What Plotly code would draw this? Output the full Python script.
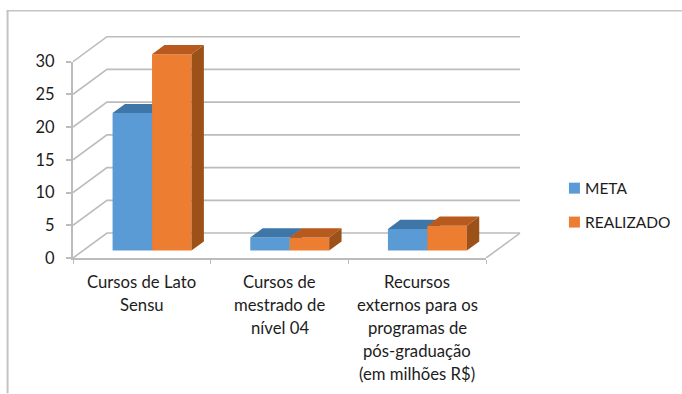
import plotly.graph_objects as go

categories = ["Cursos de Lato<br>Sensu",
              "Cursos de<br>mestrado de<br>nível 04",
              "Recursos<br>externos para os<br>programas de<br>pós-graduação<br>(em milhões R$)"]
series_names = ["META", "REALIZADO"]
meta = [21, 2, 3.3]
realizado = [30, 2, 3.8]
y_ticks = [0, 5, 10, 15, 20, 25, 30]

W, H = 682, 394
L, R, T, B = 72.5, 486.0, 61.7, 258.5   # pixel box of the axes proper
R2, T2 = 523.0, 33.0                    # pixel box that also holds the 3-D walls
FONT = "Lato"
TXT = "#1c1c1c"
GRID = "#bcbcbc"
N = len(categories)
px_x = (R - L) / N
px_y = (B - T) / y_ticks[-1]
DX, DY = 34 / px_x, 25 / px_y          # depth of the floor, in data units
F0, F1 = 0.30, 0.665                   # bar front / back as a share of depth
BW = 39.5 / px_x

COLORS = {"META": ("#5b9bd5", "#3f76a8", "#3a6a96"),
          "REALIZADO": ("#ed7d31", "#b85a1e", "#9c5118")}


def polys(pts_list):
    xs, ys = [], []
    for pts in pts_list:
        xs += [p[0] for p in pts] + [pts[0][0], None]
        ys += [p[1] for p in pts] + [pts[0][1], None]
    return xs, ys


fig = go.Figure()

# holds the visible axes (xaxis / yaxis)
fig.add_trace(go.Scatter(x=[0], y=[0], mode="none", hoverinfo="skip", showlegend=False))

# walls: back gridlines, slanted side lines, floor edge
gx, gy = [], []
for v in y_ticks:
    gx += [-0.5, -0.5 + DX, N - 0.5 + DX, None]
    gy += [v, v + DY, v + DY, None]
gx += [N - 0.5, N - 0.5 + DX, None]
gy += [0, DY, None]
fig.add_trace(go.Scatter(x=gx, y=gy, mode="lines", hoverinfo="skip", xaxis="x2", yaxis="y2",
                         line=dict(color=GRID, width=1.6), showlegend=False))

for k, (name, vals) in enumerate(zip(series_names, [meta, realizado])):
    front, top, side = COLORS[name]
    xa, ya = "x" + str(k + 3), "y" + str(k + 3)
    left = [i + F0 * DX + (k - 1) * BW for i in range(N)]
    centers = [l + BW / 2 for l in left]
    base = [F0 * DY] * N
    fig.add_trace(go.Bar(x=centers, y=vals, base=base, width=BW, name=name, xaxis=xa, yaxis=ya,
                         marker=dict(color=front, line=dict(width=0)), showlegend=False))
    d = F1 - F0
    tops, sides = [], []
    for l, v in zip(left, vals):
        y0 = F0 * DY
        y1 = y0 + v
        ox, oy = d * DX, d * DY
        tops.append([(l, y1), (l + BW, y1), (l + BW + ox, y1 + oy), (l + ox, y1 + oy)])
        sides.append([(l + BW, y0), (l + BW, y1), (l + BW + ox, y1 + oy), (l + BW + ox, y0 + oy)])
    for pts, col in ((tops, top), (sides, side)):
        xs, ys = polys(pts)
        fig.add_trace(go.Scatter(x=xs, y=ys, mode="lines", fill="toself", fillcolor=col,
                                 line=dict(width=0, color=col), xaxis=xa, yaxis=ya,
                                 hoverinfo="skip", showlegend=False))

annotations = []
for i, label in enumerate(categories):
    for j, line in enumerate(label.split("<br>")):
        annotations.append(dict(x=i, y=0, xref="x", yref="y", text=line, showarrow=False,
                                xanchor="center", yanchor="middle", yshift=-(24.3 + 22.9 * j),
                                font=dict(family=FONT, size=16.7, color=TXT)))


def pxx(p):
    return (p - L) / (R2 - L)


def pxy(p):
    return (B - p) / (B - T2)


shapes = [
    dict(type="line", xref="paper", yref="paper", x0=pxx(7), x1=pxx(7), y0=pxy(394), y1=pxy(10.5),
         line=dict(color="#c4c4c4", width=2)),
    dict(type="line", xref="paper", yref="paper", x0=pxx(6), x1=pxx(682), y0=pxy(10.7), y1=pxy(10.7),
         line=dict(color="#c4c4c4", width=1.5)),
]
for name, cy in zip(series_names, [188.5, 222.5]):
    shapes.append(dict(type="rect", xref="paper", yref="paper", x0=pxx(569), x1=pxx(580),
                       y0=pxy(cy + 5.5), y1=pxy(cy - 5.5), line=dict(width=0),
                       fillcolor=COLORS[name][0]))
    annotations.append(dict(x=pxx(583.5), y=pxy(cy), xref="paper", yref="paper", text=name,
                            showarrow=False, xanchor="left", yanchor="middle",
                            font=dict(family=FONT, size=15.5, color=TXT)))

dom_x = [0, (R - L) / (R2 - L)]
dom_y = [0, (B - T) / (B - T2)]
ext_x = [-0.5, -0.5 + (R2 - L) / px_x]
ext_y = [0, (B - T2) / px_y]

axis_x = dict(domain=dom_x, range=[-0.5, N - 0.5], anchor="y", fixedrange=True, showgrid=False,
              zeroline=False, showline=True, linecolor=GRID, linewidth=2, showticklabels=False,
              ticks="", minor=dict(tickvals=[i - 0.5 for i in range(N + 1)], ticks="outside",
                                   ticklen=4, tickcolor=GRID, tickwidth=1, showgrid=False))
axis_y = dict(domain=dom_y, range=[0, y_ticks[-1]], anchor="x", tickvals=y_ticks, fixedrange=True,
              showgrid=False, zeroline=False, showline=True, linecolor=GRID, linewidth=2,
              ticks="outside", ticklen=5, tickcolor=GRID, tickwidth=1.5, ticklabelstandoff=8,
              tickfont=dict(family=FONT, size=16.5, color=TXT))
wall_x = dict(domain=[0, 1], range=ext_x, anchor="y2", visible=False, fixedrange=True)
wall_y = dict(domain=[0, 1], range=ext_y, anchor="x2", visible=False, fixedrange=True)


def over(ax_range, base):
    return dict(range=ax_range, overlaying=base, visible=False, fixedrange=True)


fig.update_layout(
    width=W, height=H, autosize=False, paper_bgcolor="white", plot_bgcolor="rgba(0,0,0,0)",
    margin=dict(l=L, r=W - R2, t=T2, b=H - B, pad=0), showlegend=False,
    barmode="overlay", font=dict(family=FONT),
    xaxis=axis_x, yaxis=axis_y, xaxis2=wall_x, yaxis2=wall_y,
    xaxis3=over(ext_x, "x2"), yaxis3=over(ext_y, "y2"),
    xaxis4=over(ext_x, "x2"), yaxis4=over(ext_y, "y2"),
    shapes=shapes, annotations=annotations,
)
fig.write_html("out.html", config=dict(displayModeBar=False),
               post_script="document.body.style.margin='0';document.documentElement.style.overflow='hidden';")
